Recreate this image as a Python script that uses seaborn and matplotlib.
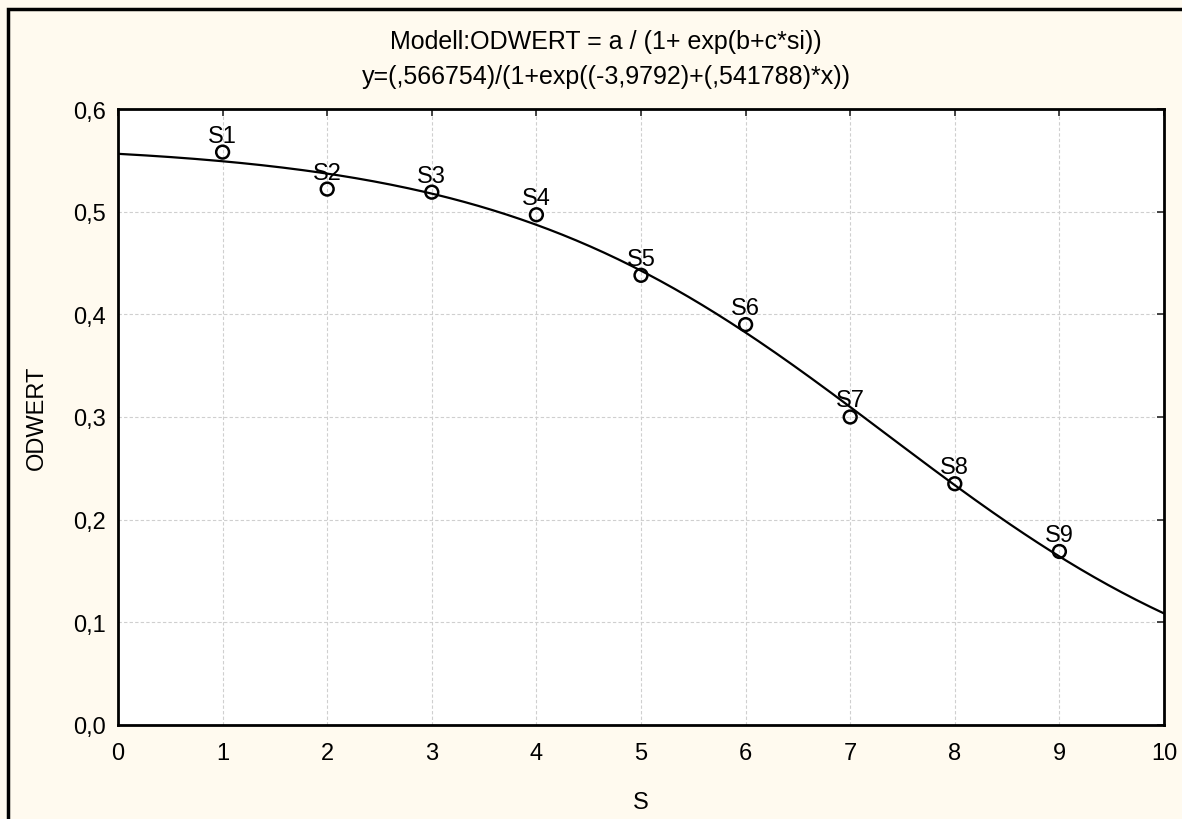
import numpy as np
import pandas as pd
import matplotlib
matplotlib.use("Agg")
import matplotlib.pyplot as plt
import seaborn as sns
from matplotlib.patches import Rectangle
from matplotlib.ticker import FuncFormatter

sLabels = ["S1", "S2", "S3", "S4", "S5", "S6", "S7", "S8", "S9"]
sValues = [1, 2, 3, 4, 5, 6, 7, 8, 9]
odwert = [0.558, 0.522, 0.519, 0.497, 0.438, 0.390, 0.300, 0.235, 0.169]

# fitted model parameters as printed in the title
a, b, c = 0.566754, -3.9792, 0.541788
xTicks = [0, 1, 2, 3, 4, 5, 6, 7, 8, 9, 10]
yTicks = [0.0, 0.1, 0.2, 0.3, 0.4, 0.5, 0.6]

sns.set_style("white")
plt.rcParams["font.family"] = ["Liberation Sans", "DejaVu Sans"]
fs = 17

fig = plt.figure(figsize=(11.82, 8.2), dpi=100, facecolor="#fffaef")
ax = fig.add_axes([118/1182, 1-726/820, (1164-118)/1182, (726-110)/820])
ax.set_facecolor("white")

# model curve
xs = np.linspace(0, 10, 300)
fitDF = pd.DataFrame({"S": xs, "ODWERT": a/(1+np.exp(b+c*xs))})
sns.lineplot(data=fitDF, x="S", y="ODWERT", ax=ax, color="black", linewidth=1.6, zorder=3)

pointsDF = pd.DataFrame({"S": sValues, "ODWERT": odwert, "label": sLabels})
sns.scatterplot(data=pointsDF, x="S", y="ODWERT", ax=ax, marker="o", s=85,
                facecolor="none", edgecolor="black", linewidth=1.8, zorder=4)

for _, row in pointsDF.iterrows():
  ax.annotate(row["label"], (row["S"], row["ODWERT"]), xytext=(0, 4), textcoords="offset points",
              ha="center", va="bottom", fontsize=fs, color="black")

ax.set_xlim(0, 10)
ax.set_ylim(0, 0.6)
ax.set_xticks(xTicks)
ax.set_yticks(yTicks)
ax.yaxis.set_major_formatter(FuncFormatter(lambda v, p: f"{v:.1f}".replace(".", ",")))
ax.grid(True, color="#cfcfcf", linestyle=(0, (3, 2)), linewidth=0.8)
ax.tick_params(direction="in", length=5, width=1.2, labelsize=fs, labelcolor="black", top=True, right=True,
               labeltop=False, labelright=False)
ax.tick_params(axis="x", pad=12)
ax.tick_params(axis="y", pad=9)
for sp in ax.spines.values():
  sp.set_visible(True)
  sp.set_color("black")
  sp.set_linewidth(2)

ax.set_xlabel("S", fontsize=fs, labelpad=20, color="black")
ax.set_ylabel("ODWERT", fontsize=fs, labelpad=18, color="black")

fig.text(606/1182, 1-42/820, "Modell:ODWERT = a / (1+ exp(b+c*si))", ha="center", va="center",
         fontsize=18, color="black")
fig.text(606/1182, 1-77/820, "y=(,566754)/(1+exp((-3,9792)+(,541788)*x))", ha="center", va="center",
         fontsize=18, color="black")

# outer frame (cut off at right and bottom)
fig.patches.append(Rectangle((8/1182, -0.1), 1.2, 1-10/820+0.1, transform=fig.transFigure,
                             fill=False, edgecolor="black", linewidth=2.5))

fig.savefig("out.png", dpi=100, facecolor=fig.get_facecolor())
